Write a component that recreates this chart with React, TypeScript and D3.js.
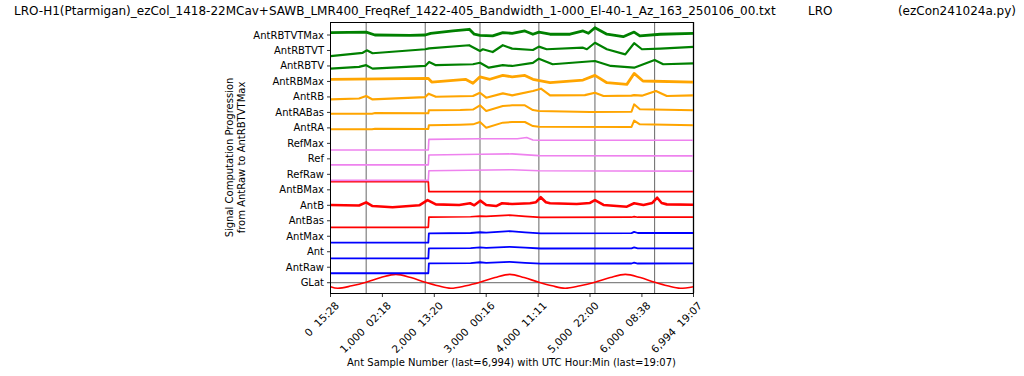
import React from 'react';
import * as d3 from 'd3';

type Pt = [number, number];

const titleLeft = 'LRO-H1(Ptarmigan)_ezCol_1418-22MCav+SAWB_LMR400_FreqRef_1422-405_Bandwidth_1-000_El-40-1_Az_163_250106_00.txt';
const titleMid = 'LRO';
const titleRight = '(ezCon241024a.py)';
const yLabel1 = 'Signal Computation Progression';
const yLabel2 = 'from AntRaw to AntRBTVTMax';
const xLabel = 'Ant Sample Number (last=6,994) with UTC Hour:Min (last=19:07)';

const seriesNames = ['GLat', 'AntRaw', 'Ant', 'AntMax', 'AntBas', 'AntB', 'AntBMax', 'RefRaw', 'Ref', 'RefMax',
  'AntRA', 'AntRABas', 'AntRB', 'AntRBMax', 'AntRBTV', 'AntRBTVT', 'AntRBTVTMax'];

const sampleTicks = [0, 1000, 2000, 3000, 4000, 5000, 6000, 6994];
const tickTimes = ['15:28', '02:18', '13:20', '00:16', '11:11', '22:00', '08:38', '19:07'];

// GLat zero crossings (dark) and other markers (light)
const darkMarkers = [687, 1825, 4015, 5095, 6245];
const lightMarkers = [2880, 6994];

const gLat: Pt[] = [[0, -0.26], [140, -0.36], [410, -0.2], [687, 0.03], [970, 0.33], [1260, 0.54], [1550, 0.33], [1825, 0.03], [2070, -0.2], [2320, -0.36], [2610, -0.2], [2880, 0.03], [3170, 0.33], [3455, 0.54], [3730, 0.33], [4015, 0.03], [4270, -0.2], [4520, -0.36], [4810, -0.2], [5095, 0.03], [5390, 0.33], [5680, 0.54], [5970, 0.33], [6245, 0.03], [6490, -0.2], [6740, -0.36], [6994, -0.26]];
const antRaw: Pt[] = [[0, -0.39], [1885, -0.39], [1895, 0.25], [2700, 0.26], [2880, 0.32], [3000, 0.28], [3450, 0.35], [3750, 0.28], [4050, 0.23], [5800, 0.24], [5850, 0.29], [5920, 0.24], [6994, 0.25]];
const ant: Pt[] = [[0, -0.43], [1885, -0.43], [1895, 0.22], [2700, 0.23], [2880, 0.28], [3000, 0.25], [3450, 0.32], [3750, 0.26], [4050, 0.21], [5800, 0.22], [5850, 0.28], [5920, 0.22], [6994, 0.22]];
const antMax: Pt[] = [[0, -0.41], [1885, -0.41], [1895, 0.19], [2700, 0.21], [2880, 0.26], [3000, 0.23], [3450, 0.33], [3750, 0.25], [4050, 0.19], [5800, 0.2], [5850, 0.28], [5920, 0.21], [6994, 0.21]];
const antBas: Pt[] = [[0, -0.42], [1885, -0.42], [1895, 0.23], [2700, 0.26], [2880, 0.3], [3000, 0.29], [3450, 0.36], [3750, 0.29], [4050, 0.22], [5800, 0.23], [5850, 0.27], [5920, 0.23], [6994, 0.23]];
const antB: Pt[] = [[0, 0.02], [550, -0.01], [687, 0.19], [810, -0.05], [1195, -0.13], [1710, 0], [1870, 0.34], [2030, 0.06], [2480, 0.02], [2690, 0.13], [2770, 0], [2885, 0.3], [3000, 0.02], [3190, -0.05], [3305, 0.13], [3500, 0.08], [3845, 0.13], [3960, 0.2], [4050, 0.52], [4150, 0.2], [4230, 0.13], [4745, 0.08], [5000, 0.15], [5095, 0.34], [5260, 0.02], [5710, -0.09], [5850, 0.13], [6030, 0.02], [6200, 0.15], [6295, 0.49], [6380, 0.15], [6480, 0.06], [6994, 0.04]];
const antBMax: Pt[] = [[0, 0.52], [1885, 0.52], [1895, -0.12], [6994, -0.12]];
const refRaw: Pt[] = [[0, -0.39], [1885, -0.39], [1895, 0.23], [3500, 0.3], [4015, 0.23], [6994, 0.21]];
const ref: Pt[] = [[0, -0.39], [1885, -0.39], [1895, 0.25], [2880, 0.3], [3500, 0.32], [4015, 0.21], [6994, 0.19]];
const refMax: Pt[] = [[0, -0.43], [1885, -0.43], [1895, 0.26], [2880, 0.3], [3600, 0.3], [3780, 0.38], [3900, 0.22], [4015, 0.2], [6994, 0.2]];
const antRA: Pt[] = [[0, -0.09], [800, -0.09], [860, -0.05], [1885, -0.07], [1895, 0.17], [2500, 0.2], [2745, 0.23], [2880, 0.38], [3000, 0.01], [3320, 0.34], [3500, 0.38], [3745, 0.38], [3900, 0.12], [4015, 0.08], [5800, 0.06], [5850, 0.47], [5960, 0.23], [6994, 0.17]];
const antRABas: Pt[] = [[0, -0.08], [800, -0.08], [860, -0.04], [1885, -0.06], [1895, 0.14], [2500, 0.15], [2745, 0.18], [2880, 0.46], [3000, 0.09], [3320, 0.41], [3500, 0.46], [3745, 0.46], [3900, 0.15], [4015, 0.09], [5000, 0.03], [5800, 0.05], [5850, 0.52], [5960, 0.2], [6994, 0.14]];
const antRB: Pt[] = [[0, -0.16], [550, -0.1], [687, 0.06], [810, -0.16], [1825, -0.01], [1890, 0.21], [2030, 0.01], [2745, 0.06], [2880, 0.27], [3000, -0.05], [3320, 0.23], [3500, 0.1], [3900, 0.38], [4055, 0.53], [4230, 0.1], [4900, 0.12], [5095, 0.27], [5260, 0.06], [5800, 0.08], [5850, 0.12], [6000, 0.08], [6270, 0.38], [6480, 0.06], [6994, 0.1]];
const antRBMax: Pt[] = [[0, 0.14], [1880, 0.2], [1950, -0.04], [2600, 0.14], [2745, -0.12], [2880, 0.3], [3070, 0.14], [3320, 0.39], [3500, 0.3], [3745, 0.39], [3900, 0.14], [4230, -0.08], [4865, 0.09], [5095, 0.39], [5325, -0.08], [5710, -0.19], [5850, 0.52], [6020, 0.03], [6994, -0.04]];
const antRBTV: Pt[] = [[0, -0.17], [550, -0.06], [687, 0.05], [810, -0.17], [1825, 0], [1900, 0.26], [2030, 0.05], [2745, 0.11], [2880, 0.21], [3050, -0.11], [3320, 0.05], [3500, 0], [3900, 0.2], [4015, 0.47], [4280, 0.11], [5095, 0.32], [5400, 0], [5850, -0.11], [6245, 0.39], [6410, 0.11], [6994, 0.17]];
const antRBTVT: Pt[] = [[0, -0.36], [620, -0.15], [700, 0.01], [810, -0.18], [1825, 0.08], [1900, 0.14], [2670, 0.34], [2880, -0.03], [2935, 0.08], [3125, -0.1], [3320, 0.34], [3500, 0.12], [3900, 0.03], [4015, 0.25], [4165, 0.08], [4865, 0.18], [4940, 0.08], [5095, 0.5], [5325, 0.08], [5680, -0.25], [5850, 0.47], [6000, 0.08], [6355, 0.12], [6994, 0.23]];
const antRBTVTMax: Pt[] = [[0, 0.15], [687, 0.19], [855, 0], [1530, -0.02], [1825, 0], [1930, 0.11], [2360, 0.26], [2675, 0.37], [2770, 0.05], [2880, -0.02], [3125, -0.06], [3320, 0.15], [3500, 0.11], [3745, 0.26], [3900, 0.05], [4015, 0.19], [4230, 0.05], [4615, 0.05], [4865, 0.26], [4970, 0.11], [5095, 0.47], [5325, 0.05], [5640, -0.11], [5850, 0.19], [5960, -0.06], [6355, 0.05], [6994, 0.11]];

const seriesData: Pt[][] = [gLat, antRaw, ant, antMax, antBas, antB, antBMax, refRaw, ref, refMax,
  antRA, antRABas, antRB, antRBMax, antRBTV, antRBTVT, antRBTVTMax];

const GREEN = '#008000', ORANGE = '#ffa500', VIOLET = '#ee82ee', RED = '#ff0000', BLUE = '#0000ff';
const seriesColors = [RED, BLUE, BLUE, BLUE, RED, RED, RED, VIOLET, VIOLET, VIOLET, ORANGE, ORANGE, ORANGE, ORANGE, GREEN, GREEN, GREEN];
const seriesWidths = [1.6, 1.8, 1.8, 1.8, 1.7, 2.6, 1.7, 1.6, 1.6, 1.6, 2.0, 2.0, 2.2, 2.8, 2.2, 2.2, 2.8];

const FONT = 'DejaVu Sans, sans-serif';

export default function App() {
  const left = 330, right = 693, top = 22, bottom = 293;
  const x = d3.scaleLinear().domain([0, 6994]).range([left + 0.5, right + 0.5]);
  const y = d3.scaleLinear().domain([-0.665, 16.84]).range([bottom, top]);
  const fmt = d3.format(',');

  const paths = seriesData.map((pts, i) => {
    const line = d3.line<Pt>()
      .x(d => x(d[0]))
      .y(d => y(i + d[1]))
      .curve(i === 0 ? d3.curveMonotoneX : d3.curveLinear);
    return line(pts) || '';
  });

  return (
    <svg width={1024} height={376} style={{ position: 'absolute', left: 0, top: 0, background: '#fff' }}
      fontFamily={FONT}>
      <rect x={0} y={0} width={1024} height={376} fill="#fff" />
      <text x={14} y={15} fontSize={12} fill="#000">{titleLeft}</text>
      <text x={808} y={15} fontSize={12} fill="#000">{titleMid}</text>
      <text x={1016} y={15} fontSize={12} fill="#000" textAnchor="end">{titleRight}</text>

      {/* grid / marker lines */}
      <line x1={left} x2={right} y1={y(0)} y2={y(0)} stroke="#666" strokeWidth={1} />
      {darkMarkers.map((s, i) => (
        <line key={'dm' + i} x1={x(s)} x2={x(s)} y1={top} y2={bottom} stroke="#666" strokeWidth={1} />
      ))}
      {lightMarkers.map((s, i) => (
        <line key={'lm' + i} x1={x(s)} x2={x(s)} y1={top} y2={bottom} stroke="#b4b4b4" strokeWidth={2} />
      ))}

      {paths.map((p, i) => (
        <path key={'s' + i} d={p} fill="none" stroke={seriesColors[i]} strokeWidth={seriesWidths[i]}
          strokeLinejoin="round" />
      ))}

      <rect x={left + 0.5} y={top + 0.5} width={right - left} height={bottom - top} fill="none" stroke="#000" strokeWidth={1} />

      {/* y ticks */}
      {seriesNames.map((n, i) => (
        <g key={'yt' + i}>
          <line x1={left + 0.5 - 3.5} x2={left + 0.5} y1={y(i)} y2={y(i)} stroke="#000" strokeWidth={0.8} />
          <text x={left - 6} y={y(i)} dy="0.35em" fontSize={10} textAnchor="end" fill="#000">{n}</text>
        </g>
      ))}

      {/* x ticks */}
      {sampleTicks.map((s, i) => (
        <g key={'xt' + i}>
          <line x1={x(s)} x2={x(s)} y1={bottom + 0.5} y2={bottom + 4} stroke="#000" strokeWidth={0.8} />
          <text transform={`translate(${x(s) + 4},${bottom + 8}) rotate(-45)`} fontSize={10.5} textAnchor="end"
            dy="0.72em" fill="#000" style={{ whiteSpace: 'pre' }}>{`${fmt(s)}  ${tickTimes[i]}`}</text>
        </g>
      ))}

      <text x={(left + right) / 2} y={366} fontSize={10} textAnchor="middle" fill="#000">{xLabel}</text>
      <text transform={`translate(233,${(top + bottom) / 2}) rotate(-90)`} fontSize={10} textAnchor="middle" fill="#000">{yLabel1}</text>
      <text transform={`translate(245,${(top + bottom) / 2}) rotate(-90)`} fontSize={10} textAnchor="middle" fill="#000">{yLabel2}</text>
    </svg>
  );
}
